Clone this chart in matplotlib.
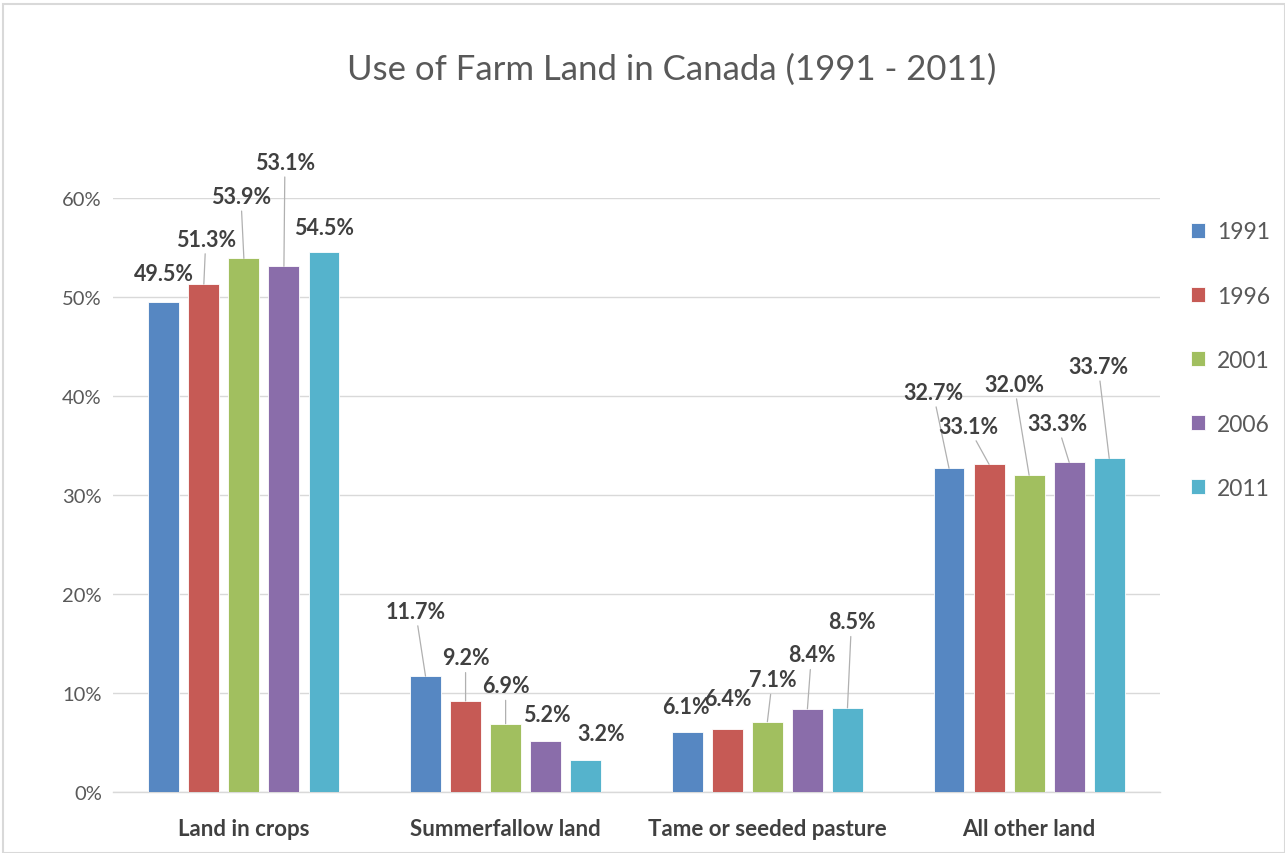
import matplotlib
matplotlib.use("Agg")
import matplotlib.pyplot as plt
from matplotlib.patches import Rectangle
import numpy as np

categories = ["Land in crops", "Summerfallow land", "Tame or seeded pasture", "All other land"]
years = ["1991", "1996", "2001", "2006", "2011"]
v1991 = [49.5, 11.7, 6.1, 32.7]
v1996 = [51.3, 9.2, 6.4, 33.1]
v2001 = [53.9, 6.9, 7.1, 32.0]
v2006 = [53.1, 5.2, 8.4, 33.3]
v2011 = [54.5, 3.2, 8.5, 33.7]
series = [v1991, v1996, v2001, v2006, v2011]
yticks = [0, 10, 20, 30, 40, 50, 60]
title = "Use of Farm Land in Canada (1991 - 2011)"

colors = ["#5687C2", "#C65A55", "#A1BF5F", "#8A6DAA", "#55B3CC"]

# label offsets in pixels (dx, dy) per series per category
label_offsets = [
    [(0, 28), (-10, 65), (-1, 25), (-16, 76)],
    [(2, 45), (0, 43), (1, 30), (-21, 38)],
    [(-3, 62), (0, 38), (5, 42), (-15, 91)],
    [(1, 104), (1, 26), (4, 54), (-12, 39)],
    [(0, 25), (15, 27), (4, 86), (-11, 92)],
]

plt.rcParams['font.family'] = ['Lato', 'DejaVu Sans']
fig = plt.figure(figsize=(12.85, 8.54), dpi=100)
ax = fig.add_axes([113/1285, 1 - 793/854, 1047/1285, (793-199)/854])

x = np.arange(len(categories))
width = 0.118
step = 0.153
for i, (vals, yr, col) in enumerate(zip(series, years, colors)):
    xs = x + (i - 2) * step
    ax.bar(xs, vals, width, color=col, label=yr, zorder=3,
           edgecolor="white", linewidth=0.6)
    for j, (xx, v) in enumerate(zip(xs, vals)):
        dx, dy = label_offsets[i][j]
        props = None
        if dy >= 35:
            props = dict(arrowstyle='-', color='#B0B0B0', lw=0.9,
                         shrinkA=1, shrinkB=0)
        ax.annotate(f"{v:.1f}%", xy=(xx, v), xytext=(dx, dy),
                    textcoords='offset pixels', ha='center', va='center',
                    fontsize=15.5, fontweight='bold', color='#404040',
                    arrowprops=props, annotation_clip=False, zorder=5)

ax.set_xlim(-0.5, 3.5)
ax.set_ylim(0, 60)
ax.set_yticks(yticks)
ax.set_yticklabels([f"{t}%" for t in yticks], fontsize=14.5, color='#595959')
ax.set_xticks(x)
ax.set_xticklabels(categories, fontsize=16, fontweight='bold', color='#404040')
ax.tick_params(axis='x', length=0, pad=19)
ax.tick_params(axis='y', length=0, pad=8)
ax.yaxis.grid(True, color='#D9D9D9', lw=1, zorder=0)
for s in ['top', 'right', 'left']:
    ax.spines[s].set_visible(False)
ax.spines['bottom'].set_color('#D9D9D9')
ax.spines['bottom'].set_linewidth(1)

leg = fig.legend(loc='upper left', bbox_to_anchor=(1180/1285, 1 - 211/854),
                 frameon=False, fontsize=16.5, handlelength=0.6, handleheight=0.6,
                 handletextpad=0.5, labelspacing=1.88, borderpad=0)
for t in leg.get_texts():
    t.set_color('#595959')

fig.text(672/1285, 1 - 70/854, title, ha='center', va='center', fontsize=25, color='#595959')

fig.patches.append(Rectangle((3/1285, 0), 1 - 3/1285, 1 - 5/854, transform=fig.transFigure,
                             fill=False, edgecolor='#D9D9D9', lw=1.5))

fig.savefig("out.png", dpi=100)
